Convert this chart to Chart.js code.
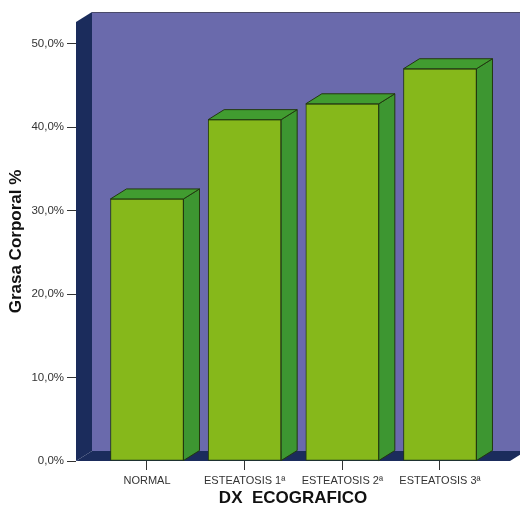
<!DOCTYPE html>
<html>
<head>
<meta charset="utf-8">
<script src="https://cdn.jsdelivr.net/npm/chart.js@4/dist/chart.umd.min.js"></script>
<style>
  html, body { margin: 0; padding: 0; background: #ffffff; }
  #wrap { width: 520px; height: 505px; }
</style>
</head>
<body>
<div id="wrap"><canvas id="c" width="520" height="505"></canvas></div>
<script>
// Ecographic diagnosis groups and mean body-fat percentage
const categories = ['NORMAL', 'ESTEATOSIS 1ª', 'ESTEATOSIS 2ª', 'ESTEATOSIS 3ª'];
const grasaCorporal = [31.4, 40.9, 42.8, 47.0];
const yTickValues = [0, 10, 20, 30, 40, 50];

// 3D box depth (pixels toward the back wall)
const DEPTH_X = 16, DEPTH_Y = -10;

const COLORS = {
  wall: '#6a6aac',
  navy: '#1b2c5c',
  front: '#86b81b',
  side: '#3d9631',
  top: '#419c30',
  edge: '#22380f'
};

function poly(ctx, pts, fill, stroke) {
  ctx.beginPath();
  ctx.moveTo(pts[0][0], pts[0][1]);
  for (let i = 1; i < pts.length; i++) ctx.lineTo(pts[i][0], pts[i][1]);
  ctx.closePath();
  ctx.fillStyle = fill;
  ctx.fill();
  if (stroke) { ctx.strokeStyle = stroke; ctx.lineWidth = 1; ctx.stroke(); }
}

// Walls and floor behind the bars, then side/top faces of each bar
const box3d = {
  id: 'box3d',
  beforeDatasetsDraw(chart) {
    const { ctx, chartArea: { left, right, top, bottom } } = chart;
    ctx.save();
    // back wall
    poly(ctx, [[left + DEPTH_X, top + DEPTH_Y], [right + DEPTH_X + 20, top + DEPTH_Y],
               [right + DEPTH_X + 20, bottom + DEPTH_Y], [left + DEPTH_X, bottom + DEPTH_Y]], COLORS.wall);
    ctx.beginPath();
    ctx.moveTo(left + DEPTH_X, top + DEPTH_Y + 0.5);
    ctx.lineTo(right + DEPTH_X + 20, top + DEPTH_Y + 0.5);
    ctx.strokeStyle = '#4a4a6a';
    ctx.lineWidth = 1;
    ctx.stroke();
    // left side wall
    poly(ctx, [[left, top], [left + DEPTH_X, top + DEPTH_Y],
               [left + DEPTH_X, bottom + DEPTH_Y], [left, bottom]], COLORS.navy);
    // floor
    poly(ctx, [[left, bottom], [left + DEPTH_X, bottom + DEPTH_Y],
               [right + DEPTH_X, bottom + DEPTH_Y], [right, bottom]], COLORS.navy);
    ctx.restore();
  },
  afterDatasetsDraw(chart) {
    const { ctx } = chart;
    ctx.save();
    chart.getDatasetMeta(0).data.forEach(bar => {
      const { x, y, base, width } = bar.getProps(['x', 'y', 'base', 'width'], true);
      const xl = x - width / 2, xr = x + width / 2;
      poly(ctx, [[xr, y], [xr + DEPTH_X, y + DEPTH_Y], [xr + DEPTH_X, base + DEPTH_Y], [xr, base]],
           COLORS.side, COLORS.edge);
      poly(ctx, [[xl, y], [xl + DEPTH_X, y + DEPTH_Y], [xr + DEPTH_X, y + DEPTH_Y], [xr, y]],
           COLORS.top, COLORS.edge);
    });
    ctx.restore();
  }
};

const yTickFont = { family: '"Liberation Sans", Arial, sans-serif', size: 11.5 };
const xTickFont = { family: '"Liberation Sans", Arial, sans-serif', size: 11 };
const titleFont = { family: '"Liberation Sans", Arial, sans-serif', size: 17, weight: 'bold' };

new Chart(document.getElementById('c'), {
  type: 'bar',
  data: {
    datasets: [{
      data: categories.map((c, i) => ({ x: i, y: grasaCorporal[i] })),
      backgroundColor: COLORS.front,
      borderColor: COLORS.edge,
      borderWidth: 1,
      borderSkipped: false,
      barThickness: 73
    }]
  },
  options: {
    responsive: false,
    animation: false,
    layout: { padding: { top: 22, right: 10, left: 0, bottom: 0 } },
    plugins: { legend: { display: false }, tooltip: { enabled: false } },
    scales: {
      x: {
        type: 'linear',
        offset: false,
        min: -0.727,
        max: 3.717,
        afterBuildTicks: s => { s.ticks = categories.map((c, i) => ({ value: i })); },
        afterFit: s => { s.height = 44; },
        ticks: {
          callback: v => categories[v],
          autoSkip: false, maxRotation: 0, minRotation: 0,
          font: xTickFont, color: '#333', padding: 4
        },
        grid: { offset: false, drawOnChartArea: false, drawTicks: true, tickLength: 9, color: '#333' },
        border: { display: false },
        title: { display: true, text: 'DX  ECOGRAFICO', font: titleFont, color: '#111',
                 padding: { top: 0, bottom: -4 } }
      },
      y: {
        min: 0,
        max: 52.6,
        afterBuildTicks: s => { s.ticks = yTickValues.map(v => ({ value: v })); },
        afterFit: s => { s.width = 76; },
        ticks: {
          callback: v => v.toFixed(1).replace('.', ',') + '%',
          font: yTickFont, color: '#333', padding: 3
        },
        grid: { drawOnChartArea: false, drawTicks: true, tickLength: 9, color: '#333' },
        border: { display: false },
        title: { display: true, text: 'Grasa Corporal %', font: titleFont, color: '#111',
                 padding: { top: 6, bottom: 0 } }
      }
    }
  },
  plugins: [box3d]
});
</script>
</body>
</html>
